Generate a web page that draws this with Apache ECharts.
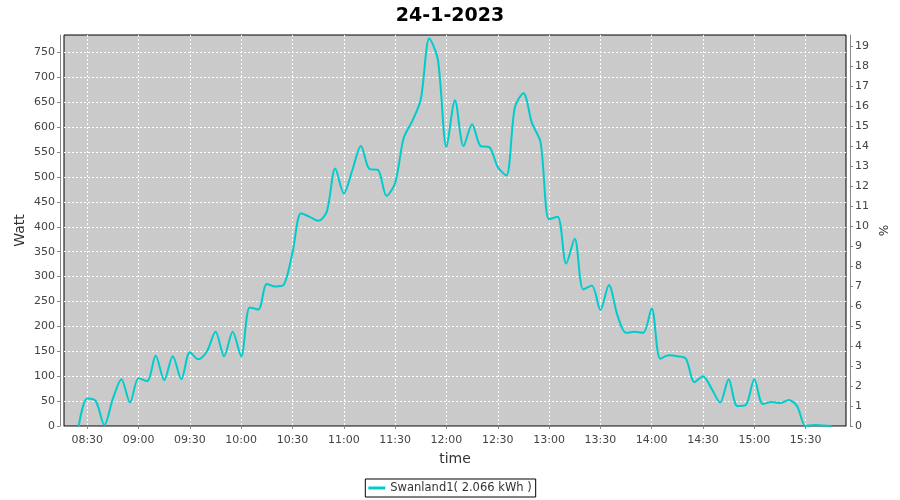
<!DOCTYPE html>
<html>
<head>
<meta charset="utf-8">
<script src="https://cdn.jsdelivr.net/npm/echarts@6/dist/echarts.min.js"></script>
<style>html,body{margin:0;padding:0;background:#fff}#c{width:900px;height:500px}</style>
</head>
<body>
<div id="c"></div>
<script>
const title = '24-1-2023';
const seriesName = 'Swanland1( 2.066 kWh )';
const times = ['08:25','08:30','08:35','08:40','08:45','08:50','08:55','09:00','09:05','09:10','09:15','09:20','09:25','09:30','09:35','09:40','09:45','09:50','09:55','10:00','10:05','10:10','10:15','10:20','10:25','10:30','10:35','10:40','10:45','10:50','10:55','11:00','11:05','11:10','11:15','11:20','11:25','11:30','11:35','11:40','11:45','11:50','11:55','12:00','12:05','12:10','12:15','12:20','12:25','12:30','12:35','12:40','12:45','12:50','12:55','13:00','13:05','13:10','13:15','13:20','13:25','13:30','13:35','13:40','13:45','13:50','13:55','14:00','14:05','14:10','14:15','14:20','14:25','14:30','14:35','14:40','14:45','14:50','14:55','15:00','15:05','15:10','15:15','15:20','15:25','15:30','15:35','15:40','15:45'];
const watts = [0,55,50,2,55,94,47,96,90,141,92,140,94,148,134,150,189,140,189,140,238,234,285,280,284,348,427,420,412,430,517,467,514,562,516,514,462,488,578,612,656,778,735,560,654,562,606,562,560,520,503,640,668,608,570,415,420,326,376,274,282,233,283,222,187,189,187,236,135,142,140,135,88,100,75,47,94,40,42,94,44,48,46,52,40,0,2,1,0];
const xTickLabels = ['08:30','09:00','09:30','10:00','10:30','11:00','11:30','12:00','12:30','13:00','13:30','14:00','14:30','15:00','15:30'];
const xRange = ['08:16.4','15:53.6'];
const wattMax = 785;
const pctMax = 19.55;

function toMin(s){const p=s.split(':');return (+p[0])*60+parseFloat(p[1]);}
function fmt(v){const h=Math.floor(v/60), m=Math.round(v-h*60);return String(h).padStart(2,'0')+':'+String(m).padStart(2,'0');}

const data = times.map((t,i)=>[toMin(t), watts[i]]);
const tickVals = xTickLabels.map(toMin);
const FONT = 'DejaVu Sans';

const chart = echarts.init(document.getElementById('c'), null, {renderer:'canvas'});
chart.setOption({
  animation:false,
  backgroundColor:'#fff',
  title:{text:title,left:'center',top:2,textStyle:{fontFamily:FONT,fontSize:19,fontWeight:'bold',color:'#000'}},
  grid:{left:64,right:54,top:35,bottom:74,show:true,backgroundColor:'#cacaca',borderColor:'#000',borderWidth:1},
  legend:{bottom:3,left:'center',data:[seriesName],borderColor:'#000',borderWidth:1,padding:[3,4,3,3],borderRadius:0,
    itemWidth:17,itemHeight:3,icon:'rect',textStyle:{fontFamily:FONT,fontSize:11.5,color:'#333'}},
  xAxis:{type:'value',min:toMin(xRange[0]),max:toMin(xRange[1]),offset:4,
    name:'time',nameLocation:'middle',nameGap:22,nameMoveOverlap:false,nameTextStyle:{fontFamily:FONT,fontSize:14,color:'#333',verticalAlign:'top'},
    axisLine:{show:true,lineStyle:{color:'#888'}},
    axisTick:{show:true,length:3,customValues:tickVals,lineStyle:{color:'#888'}},
    axisLabel:{customValues:tickVals,formatter:fmt,fontFamily:FONT,fontSize:11,color:'#444',margin:5},
    splitLine:{show:true,lineStyle:{color:'#fff',type:[2,2],width:1}}},
  yAxis:[
    {type:'value',min:0,max:wattMax,interval:50,offset:4,position:'left',
     name:'Watt',nameLocation:'middle',nameGap:33,nameMoveOverlap:false,nameRotate:90,nameTextStyle:{fontFamily:FONT,fontSize:14,color:'#333'},
     axisLine:{show:true,lineStyle:{color:'#888'}},
     axisTick:{show:true,length:3,lineStyle:{color:'#888'}},
     axisLabel:{showMaxLabel:false,fontFamily:FONT,fontSize:11,color:'#444',margin:5},
     splitLine:{show:true,showMinLine:false,showMaxLine:false,lineStyle:{color:'#fff',type:[2,2],width:1}}},
    {type:'value',min:0,max:pctMax,interval:1,offset:4,position:'right',
     name:'%',nameLocation:'middle',nameGap:26,nameMoveOverlap:false,nameRotate:-90,nameTextStyle:{fontFamily:FONT,fontSize:12,color:'#333'},
     axisLine:{show:true,lineStyle:{color:'#888'}},
     axisTick:{show:true,length:3,lineStyle:{color:'#888'}},
     axisLabel:{showMaxLabel:false,fontFamily:FONT,fontSize:11,color:'#444',margin:5},
     splitLine:{show:false}}
  ],
  series:[{name:seriesName,type:'line',data:data,yAxisIndex:0,smooth:0.3,showSymbol:false,symbol:'none',
    lineStyle:{color:'#00cccc',width:2},itemStyle:{color:'#00cccc'}}]
});
</script>
</body>
</html>
